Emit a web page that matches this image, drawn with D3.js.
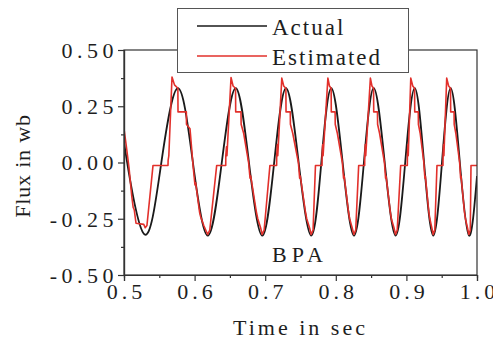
<!DOCTYPE html>
<html>
<head>
<meta charset="utf-8">
<script src="https://cdn.jsdelivr.net/npm/d3@7/dist/d3.min.js"></script>
<style>
    body { margin: 0; background: #fff; }
    svg { display: block; }
</style>
</head>
<body>
<div id="chart"></div>
<script>
    // values (time in sec, flux in wb)
    var xTicks = [0.5, 0.6, 0.7, 0.8, 0.9, 1.0];
    var xMinor = [0.55, 0.65, 0.75, 0.85, 0.95];
    var yTicks = [-0.5, -0.25, 0, 0.25, 0.5];
    var yMinor = [-0.375, -0.125, 0.125, 0.375];

    var seriesNames = ['Actual', 'Estimated'];
    var seriesColors = ['#1a1a1a', '#e2302b'];

    // actual flux: extrema and zero crossings
    var actualT = [0.500, 0.5045, 0.5293, 0.5529, 0.5765, 0.5976, 0.6187, 0.6385, 0.6582, 0.6770,
        0.6959, 0.7127, 0.7295, 0.7474, 0.7653, 0.7795, 0.7936, 0.8097, 0.8258, 0.8398,
        0.8537, 0.8693, 0.8848, 0.8983, 0.9118, 0.9250, 0.9381, 0.9504, 0.9627, 0.9757,
        0.9887, 1.000];
    var actualV = [0.10, 0.0, -0.32, 0.0, 0.33, 0.0, -0.325, 0.0, 0.33, 0.0,
        -0.325, 0.0, 0.33, 0.0, -0.325, 0.0, 0.33, 0.0, -0.325, 0.0,
        0.33, 0.0, -0.325, 0.0, 0.33, 0.0, -0.325, 0.0, 0.33, 0.0,
        -0.325, -0.06];

    // estimated flux (stepped trace)
    var estimated = [
        [0.500, 0.15], [0.503, 0.08], [0.507, -0.02], [0.511, -0.15], [0.513, -0.20], [0.5145, -0.21],
        [0.517, -0.27], [0.528, -0.275], [0.530, -0.29], [0.5325, -0.28], [0.5411, -0.013], [0.5623, -0.013],
        [0.5625, 0.01], [0.5635, 0.03], [0.568, 0.38], [0.5715, 0.345], [0.5763, 0.33], [0.5765, 0.225],
        [0.5883, 0.225], [0.5885, 0.17], [0.5935, 0.15], [0.598, -0.02], [0.6005, -0.10], [0.6015, -0.09],
        [0.607, -0.22], [0.6085, -0.24], [0.613, -0.28], [0.6185, -0.32],

        [0.6215, -0.30], [0.6313, -0.013], [0.6441, -0.013], [0.6442, 0.03], [0.6452, 0.07], [0.6458, 0.03],
        [0.6516, 0.378], [0.6545, 0.34], [0.6580, 0.33], [0.6582, 0.225], [0.6657, 0.225], [0.6659, 0.17],
        [0.6695, 0.13], [0.6765, 0.0], [0.6785, -0.07], [0.6795, -0.06], [0.6875, -0.22], [0.6895, -0.25],
        [0.6935, -0.29], [0.6957, -0.32],

        [0.6985, -0.30], [0.7067, -0.013], [0.7162, -0.013], [0.7163, 0.03], [0.7172, 0.08], [0.7178, 0.03],
        [0.7235, 0.375], [0.7262, 0.34], [0.7293, 0.33], [0.7295, 0.225], [0.7355, 0.225], [0.7357, 0.17],
        [0.7390, 0.13], [0.7470, 0.0], [0.7488, -0.07], [0.7497, -0.06], [0.7570, -0.22], [0.7588, -0.25],
        [0.7628, -0.29], [0.7651, -0.32],

        [0.7678, -0.30], [0.7712, -0.013], [0.7805, -0.013], [0.7806, 0.03], [0.7814, 0.08], [0.7820, 0.03],
        [0.7888, 0.375], [0.7910, 0.34], [0.7934, 0.33], [0.7936, 0.225], [0.7990, 0.225], [0.7992, 0.17],
        [0.8022, 0.13], [0.8093, 0.0], [0.8110, -0.07], [0.8118, -0.06], [0.8180, -0.22], [0.8196, -0.25],
        [0.8232, -0.29], [0.8256, -0.32],

        [0.8282, -0.30], [0.8324, -0.013], [0.8409, -0.013], [0.8410, 0.03], [0.8418, 0.08], [0.8424, 0.03],
        [0.8490, 0.375], [0.8512, 0.34], [0.8535, 0.33], [0.8537, 0.225], [0.8590, 0.225], [0.8592, 0.17],
        [0.8620, 0.13], [0.8689, 0.0], [0.8705, -0.07], [0.8712, -0.06], [0.8772, -0.22], [0.8787, -0.25],
        [0.8824, -0.29], [0.8846, -0.32],

        [0.8870, -0.30], [0.8919, -0.013], [0.9013, -0.013], [0.9014, 0.03], [0.9021, 0.08], [0.9026, 0.03],
        [0.9062, 0.375], [0.9090, 0.34], [0.9116, 0.33], [0.9118, 0.225], [0.9168, 0.225], [0.9170, 0.17],
        [0.9195, 0.13], [0.9247, 0.0], [0.9262, -0.07], [0.9268, -0.06], [0.9318, -0.22], [0.9332, -0.25],
        [0.9360, -0.29], [0.9379, -0.32],

        [0.9402, -0.30], [0.9433, -0.013], [0.9518, -0.013], [0.9519, 0.03], [0.9526, 0.08], [0.9531, 0.03],
        [0.9571, 0.375], [0.9598, 0.34], [0.9625, 0.33], [0.9627, 0.225], [0.9675, 0.225], [0.9677, 0.17],
        [0.9700, 0.13], [0.9754, 0.0], [0.9768, -0.07], [0.9774, -0.06], [0.9822, -0.22], [0.9836, -0.25],
        [0.9865, -0.29], [0.9885, -0.32],

        [0.9905, -0.30], [0.9915, -0.013], [1.000, -0.013]
    ];

    var W = 493, H = 343;
    var margin = {left: 124, right: 16, top: 50, bottom: 68};
    var serif = "'Liberation Serif', 'Times New Roman', serif";

    var svg = d3.select('#chart').append('svg')
        .attr('width', W)
        .attr('height', H);

    var x = d3.scaleLinear().domain([0.5, 1.0]).range([margin.left, W - margin.right]);
    var y = d3.scaleLinear().domain([-0.5, 0.5]).range([H - margin.bottom, margin.top]);

    var actual = actualT.map(function(t, i) { return [t, actualV[i]]; });

    // plain hyphen for negatives, as in the original
    function fmt(p) {
        var f = d3.format('.' + p + 'f');
        return function(d) { return f(d).replace('\u2212', '-'); };
    }

    function label(sel, size, spacing) {
        return sel.style('font-family', serif)
            .style('font-size', size + 'px')
            .style('letter-spacing', spacing + 'px')
            .attr('fill', '#1e1e1e');
    }

    svg.append('clipPath').attr('id', 'plotclip')
        .append('rect')
        .attr('x', x(0.5)).attr('y', y(0.5))
        .attr('width', x(1.0) - x(0.5)).attr('height', y(-0.5) - y(0.5));

    var lineActual = d3.line()
        .x(function(d) { return x(d[0]); })
        .y(function(d) { return y(d[1]); })
        .curve(d3.curveNatural);

    var lineEst = d3.line()
        .x(function(d) { return x(d[0]); })
        .y(function(d) { return y(d[1]); });

    var plot = svg.append('g').attr('clip-path', 'url(#plotclip)');

    plot.append('path')
        .datum(actual)
        .attr('d', lineActual)
        .attr('fill', 'none')
        .attr('stroke', seriesColors[0])
        .attr('stroke-width', 1.8);

    plot.append('path')
        .datum(estimated)
        .attr('d', lineEst)
        .attr('fill', 'none')
        .attr('stroke', seriesColors[1])
        .attr('stroke-width', 1.6)
        .attr('stroke-linejoin', 'round');

    // frame
    var axisColor = '#333';
    svg.append('rect')
        .attr('x', x(0.5)).attr('y', y(0.5))
        .attr('width', x(1.0) - x(0.5)).attr('height', y(-0.5) - y(0.5))
        .attr('fill', 'none')
        .attr('stroke', axisColor)
        .attr('stroke-width', 1.2);

    // axes
    var xAxis = svg.append('g')
        .attr('transform', 'translate(0,' + y(-0.5) + ')')
        .call(d3.axisBottom(x).tickValues(xTicks).tickSize(6).tickPadding(3).tickFormat(fmt(1)));
    svg.append('g')
        .attr('transform', 'translate(0,' + y(-0.5) + ')')
        .call(d3.axisBottom(x).tickValues(xMinor).tickSize(3).tickFormat(''));

    var yAxis = svg.append('g')
        .attr('transform', 'translate(' + x(0.5) + ',0)')
        .call(d3.axisLeft(y).tickValues(yTicks).tickSize(6).tickPadding(4).tickFormat(fmt(2)));
    svg.append('g')
        .attr('transform', 'translate(' + x(0.5) + ',0)')
        .call(d3.axisLeft(y).tickValues(yMinor).tickSize(3).tickFormat(''));

    svg.selectAll('.domain').attr('stroke', axisColor).attr('stroke-width', 1.2);
    svg.selectAll('.tick line').attr('stroke', axisColor).attr('stroke-width', 1.2);

    label(xAxis.selectAll('text'), 22, 4)
        .attr('dx', 2)
        .attr('dy', '0.7em');

    label(yAxis.selectAll('text'), 22, 4.5)
        .attr('dx', 4)
        .attr('dy', '0.34em');

    // axis titles
    label(svg.append('text'), 22, 3)
        .attr('x', (x(0.5) + x(1.0)) / 2)
        .attr('y', 335)
        .attr('text-anchor', 'middle')
        .text('Time in sec');

    label(svg.append('text'), 22, 0.8)
        .attr('transform', 'translate(30,166) rotate(-90)')
        .attr('text-anchor', 'middle')
        .text('Flux in wb');

    label(svg.append('text'), 22, 5)
        .attr('x', 300)
        .attr('y', 262)
        .attr('text-anchor', 'middle')
        .text('BPA');

    // legend
    var legend = svg.append('g');
    legend.append('rect')
        .attr('x', 177.5).attr('y', 8.5)
        .attr('width', 231).attr('height', 64)
        .attr('fill', '#fff')
        .attr('stroke', '#555')
        .attr('stroke-width', 1);

    seriesNames.forEach(function(name, i) {
        var ly = 26 + i * 30;
        legend.append('line')
            .attr('x1', 197).attr('x2', 267)
            .attr('y1', ly).attr('y2', ly)
            .attr('stroke', seriesColors[i])
            .attr('stroke-width', 1.5);
        label(legend.append('text'), 23, 2)
            .attr('x', 272)
            .attr('y', ly + 9)
            .text(name);
    });
</script>
</body>
</html>
